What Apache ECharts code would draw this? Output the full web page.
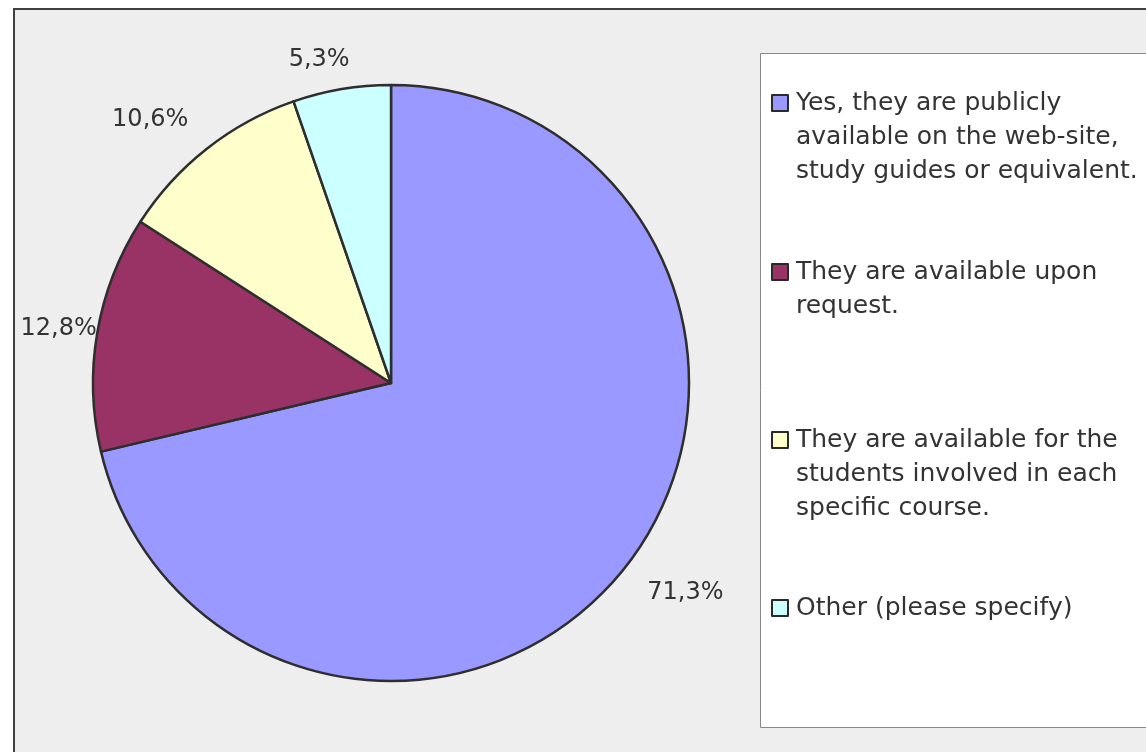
<!DOCTYPE html>
<html>
<head>
<meta charset="utf-8">
<script src="https://cdn.jsdelivr.net/npm/echarts@6/dist/echarts.min.js"></script>
<style>
  html, body { margin: 0; padding: 0; background: #fff; }
  #main { width: 1146px; height: 752px; }
</style>
</head>
<body>
<div id="main"></div>
<script>
// answer categories (legend text, with Excel's line breaks)
const categories = [
  'Yes, they are publicly\navailable on the web-site,\nstudy guides or equivalent.',
  'They are available upon\nrequest.',
  'They are available for the\nstudents involved in each\nspecific course.',
  'Other (please specify)'
]
// share of answers, percent
const shares = [71.3, 12.8, 10.6, 5.3]
const colors = ['#9999ff', '#993366', '#ffffcc', '#ccffff']
// small nudges so the percent labels sit where Excel put them
const labelNudge = [[-6, 6], [34, 1], [5, -5], [18, 0]]

const FONT = '"DejaVu Sans", sans-serif'
const LINE_H = 34

var chart = echarts.init(document.getElementById('main'))

// y of the first text line of each legend entry
const legendRows = [103, 272, 440, 608]
const legends = categories.map((name, i) => {
  const lines = name.split('\n').length
  // blank lines on top keep the icon level with the first line
  const pad = '\n'.repeat(lines - 1)
  return {
    orient: 'vertical',
    left: 771,
    top: legendRows[i] - (2 * lines - 1) * LINE_H / 2,
    padding: 0,
    itemWidth: 16,
    itemHeight: 16,
    itemGap: 6,
    icon: 'rect',
    selectedMode: false,
    itemStyle: { borderColor: '#2a2a2a', borderWidth: 2 },
    data: [name],
    formatter: n => pad + n,
    textStyle: {
      fontFamily: FONT,
      fontSize: 25,
      color: '#333',
      lineHeight: LINE_H,
      padding: [0, 0, 0, 3]
    }
  }
})

chart.setOption({
  backgroundColor: '#fff',
  animation: false,
  color: colors,
  graphic: [
    {
      type: 'rect',
      z: -10,
      shape: { x: 14, y: 9, width: 1200, height: 800 },
      style: { fill: '#eeeeee', stroke: '#404040', lineWidth: 2 }
    },
    {
      type: 'rect',
      z: -5,
      shape: { x: 760.5, y: 53.5, width: 420, height: 674 },
      style: { fill: '#ffffff', stroke: '#888888', lineWidth: 1 }
    }
  ],
  legend: legends,
  series: [
    {
      type: 'pie',
      center: [391, 383],
      radius: 298,
      startAngle: 90,
      clockwise: true,
      avoidLabelOverlap: false,
      itemStyle: { borderColor: '#2e2e2e', borderWidth: 2.5 },
      label: {
        show: true,
        position: 'outside',
        fontFamily: FONT,
        fontSize: 24,
        color: '#333',
        formatter: p => p.value.toFixed(1).replace('.', ',') + '%'
      },
      labelLine: { show: false, length: 30, length2: 0 },
      emphasis: { disabled: true },
      data: categories.map((c, i) => ({
        name: c,
        value: shares[i],
        label: { offset: labelNudge[i] }
      }))
    }
  ]
})
</script>
</body>
</html>
